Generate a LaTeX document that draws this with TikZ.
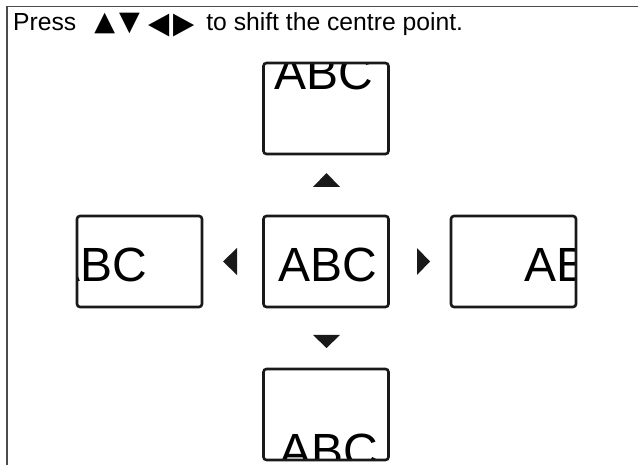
\documentclass[tikz,border=0pt]{standalone}
\usepackage{graphicx}
\usepackage{fontspec}
\setmainfont{Liberation Sans}
\newfontfamily\symfont{DejaVu Sans}
\usetikzlibrary{positioning}

\newcommand{\sidekey}[1]{\raisebox{-7pt}{\scalebox{1.2}[2]{#1}}}

\begin{document}
\begin{tikzpicture}[x=1pt,y=-1pt,
  frameline/.style={draw=black!70,line width=1.5pt},
  screen/.style={draw=black!90,line width=2.6pt,rounded corners=3pt,
    minimum width=125pt,minimum height=91pt,inner sep=0pt},
  big/.style={draw=none,minimum width=0pt,minimum height=0pt,
    font=\fontsize{48}{48}\selectfont,anchor=base west,inner sep=0pt},
  abc/.style 2 args={path picture={\node[big] at
    ([shift={(#1,#2)}]path picture bounding box.north west) {ABC};}},
  pointer/.style={fill=black!90}]
  \useasboundingbox (0,0) rectangle (638,465);
  \draw[frameline] (7,465) -- (7,6.5) -- (638,6.5);
  \node[anchor=base west,inner sep=0pt,font=\fontsize{24.7}{28}\selectfont] (hint) at (13,31)
    {Press\hspace{18pt}{\symfont\fontsize{27}{28}\selectfont ▲\hspace{4pt}▼\hspace{9pt}\fontsize{23}{28}\selectfont\sidekey{◄}\hspace{3pt}\sidekey{►}}\hspace{12pt}to shift the centre point.};
  % the five screens
  \node[screen,abc={13.5}{65.5}] (centre) at (326,261.5) {};
  \node[screen,abc={9.5}{27}] (up) at (326,108.5) {};
  \node[screen,abc={14.5}{98.5}] (down) at (326,414.5) {};
  \node[screen,abc={-29.5}{65.5}] (left) at (139.5,261.5) {};
  \node[screen,abc={72}{65.5}] (right) at (513.5,261.5) {};
  % shift keys
  \fill[pointer] (313,187) -- (326.5,173) -- (340,187) -- cycle;
  \fill[pointer] (313,335) -- (340,335) -- (326.5,348) -- cycle;
  \fill[pointer] (237,248) -- (223,261.5) -- (237,275) -- cycle;
  \fill[pointer] (417,248) -- (430,261.5) -- (417,275) -- cycle;
\end{tikzpicture}
\end{document}
